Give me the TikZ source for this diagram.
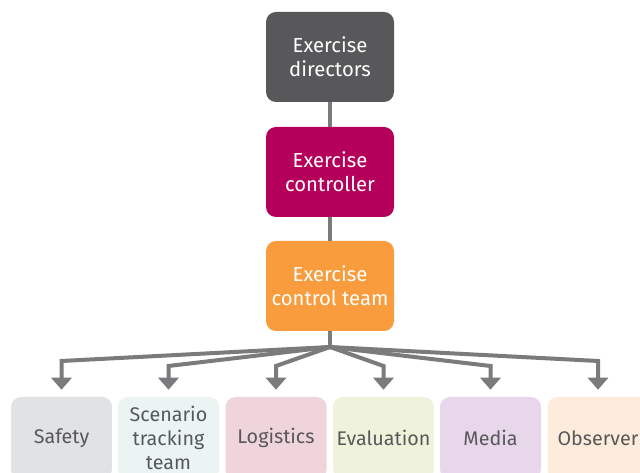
\documentclass[tikz,border=0pt]{standalone}
\usepackage{fontspec}
\setmainfont{Fira Sans}
\usetikzlibrary{arrows.meta}
\definecolor{cdir}{HTML}{58585A}
\definecolor{cctl}{HTML}{B5005B}
\definecolor{cteam}{HTML}{F89C3D}
\definecolor{cline}{HTML}{7B7B7D}
\definecolor{ctext}{HTML}{58585A}
\definecolor{csafe}{HTML}{E1E2E4}
\definecolor{cscen}{HTML}{EAF5F3}
\definecolor{clog}{HTML}{F0D4DB}
\definecolor{ceval}{HTML}{EFF3DB}
\definecolor{cmedia}{HTML}{E8D6EA}
\definecolor{cobs}{HTML}{FDEBDB}
\tikzset{
  topbox/.style={rounded corners=7.5pt, minimum width=96pt, minimum height=67.5pt,
    text=white, align=center, font=\fontsize{15.2pt}{18pt}\selectfont, inner sep=0pt},
  botbox/.style={rounded corners=7.5pt, minimum width=75.75pt, minimum height=61.5pt,
    text=ctext, align=center, font=\fontsize{14.8pt}{18pt}\selectfont, inner sep=0pt},
  conn/.style={draw=cline, line width=3pt},
  arr/.style={conn, -{Triangle[width=15pt,length=9pt]}, shorten >=5.25pt},
}
\begin{document}
\begin{tikzpicture}[x=0.75pt,y=-0.75pt]
\useasboundingbox (0,0) rectangle (640,473);
\clip (0,0) rectangle (640,473);
\fill[white] (0,0) rectangle (640,473);
\node[topbox, fill=cdir] (dir) at (330,57) {Exercise\\directors};
\node[topbox, fill=cctl] (ctl) at (330,172) {Exercise\\controller};
\node[topbox, fill=cteam] (team) at (330,286) {Exercise\\control team};
\node[botbox, fill=csafe] (safe) at (61.5,438) {Safety};
\node[botbox, fill=cscen] (scen) at (168.5,438) {Scenario\\tracking\\team};
\node[botbox, fill=clog] (log) at (276,438) {Logistics};
\node[botbox, fill=ceval] (eval) at (383.5,438) {Evaluation};
\node[botbox, fill=cmedia] (media) at (490.5,438) {Media};
\node[botbox, fill=cobs] (obs) at (598,438) {Observer};
\coordinate (j) at (330,347);
\draw[conn] (dir.south) -- (ctl.north);
\draw[conn] (ctl.south) -- (team.north);
\draw[conn] (team.south) -- (j);
\draw[arr, line join=miter] (j) -- (61.5,361) -- (safe.north);
\draw[arr, line join=miter] (j) -- (168.5,366) -- (scen.north);
\draw[arr, line join=miter] (j) -- (276,366) -- (log.north);
\draw[arr, line join=miter] (j) -- (383.5,366) -- (eval.north);
\draw[arr, line join=miter] (j) -- (490.5,366) -- (media.north);
\draw[arr, line join=miter] (j) -- (598,361) -- (obs.north);
\end{tikzpicture}
\end{document}
